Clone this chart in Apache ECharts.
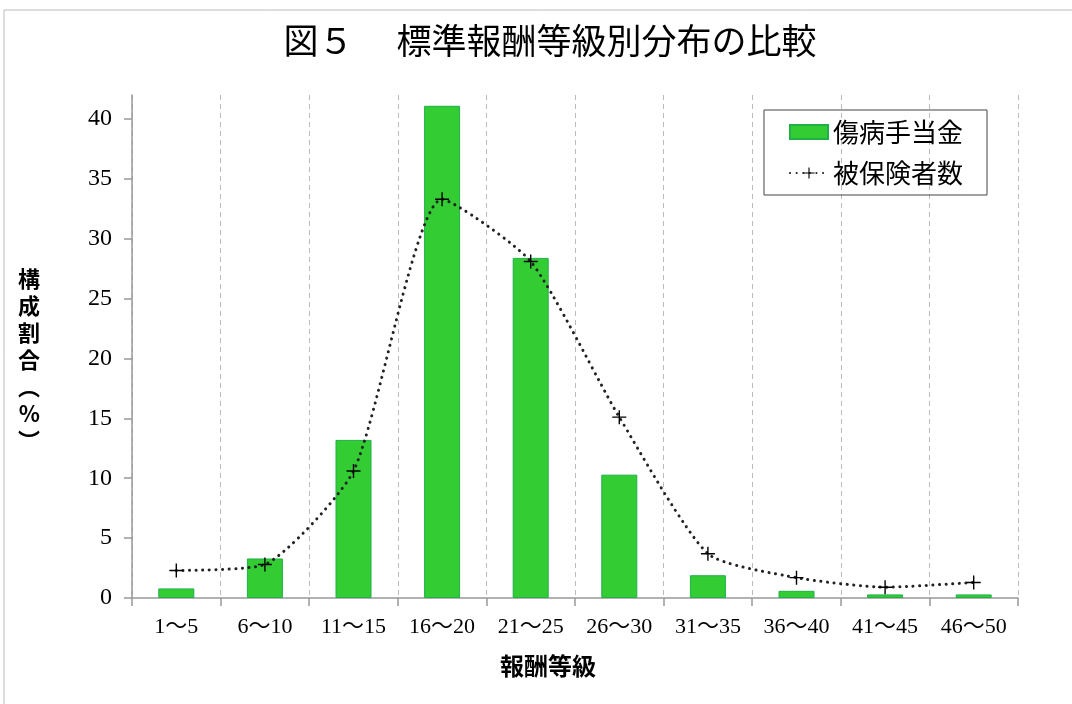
<!DOCTYPE html>
<html><head><meta charset="utf-8">
<script src="https://cdn.jsdelivr.net/npm/echarts@6/dist/echarts.min.js"></script>
<style>html,body{margin:0;padding:0;background:#fff}#c{width:1072px;height:704px}</style>
</head><body><div id="c"></div>
<script>
const categories = ['1〜5','6〜10','11〜15','16〜20','21〜25','26〜30','31〜35','36〜40','41〜45','46〜50'];
const sickBenefit = [0.8, 3.3, 13.2, 41.1, 28.4, 10.3, 1.9, 0.6, 0.3, 0.3];
const insured = [2.3, 2.8, 10.6, 33.3, 28.1, 15.1, 3.7, 1.7, 0.9, 1.3];
const yTicks = [0,5,10,15,20,25,30,35,40];

const serif = "'Liberation Serif','Noto Sans CJK JP',serif";
const sans = "'Noto Sans CJK JP',sans-serif";
const chart = echarts.init(document.getElementById('c'));
chart.setOption({
  backgroundColor:'#fff',
  animation:false,
  graphic:[{type:'rect',shape:{x:4,y:10,width:1100,height:720},style:{fill:'none',stroke:'#bbb',lineWidth:1},silent:true}],
  title:{text:'図５　 標準報酬等級別分布の比較',left:545,textAlign:'center',top:18,textStyle:{fontFamily:sans,fontSize:35,fontWeight:'normal',color:'#000'}},
  legend:{
    orient:'vertical',right:85,top:110,
    borderColor:'#444',borderWidth:1,padding:[9,24,9,25],itemGap:15,
    itemWidth:38,itemHeight:14,
    textStyle:{fontFamily:sans,fontSize:26,color:'#000'},
    data:[{name:'傷病手当金',icon:'rect'},{name:'被保険者数'}]
  },
  grid:{left:132,right:54,top:95,bottom:106},
  xAxis:{
    type:'category',data:categories,boundaryGap:true,
    name:'報酬等級',nameLocation:'middle',nameGap:56,
    nameTextStyle:{fontFamily:sans,fontSize:24,fontWeight:'bold',color:'#000',padding:[0,54,0,0]},
    axisLine:{lineStyle:{color:'#999',width:1.5}},
    axisTick:{show:true,length:8,lineStyle:{color:'#999',width:1.5}},
    axisLabel:{fontFamily:serif,fontSize:22,color:'#000',margin:18,interval:0},
    splitLine:{show:true,lineStyle:{color:'#bbb',type:[5,4],width:1}}
  },
  yAxis:{
    type:'value',min:0,max:42,interval:5,
    name:'\n構\n成\n割\n合\n︵\n%\n︶',nameLocation:'middle',nameGap:92,nameRotate:0,
    nameTextStyle:{fontFamily:sans,fontSize:22,fontWeight:'bold',color:'#000',lineHeight:27},
    axisLine:{show:true,lineStyle:{color:'#999',width:1.5}},
    axisTick:{show:true,length:8,lineStyle:{color:'#999',width:1.5}},
    axisLabel:{fontFamily:serif,fontSize:24,color:'#000',margin:20,showMaxLabel:false,
      formatter:function(v){return yTicks.indexOf(v)>=0?String(v):'';}},
    splitLine:{show:false}
  },
  series:[
    {name:'傷病手当金',type:'bar',data:sickBenefit,barWidth:36,
     itemStyle:{color:'#33cc33',borderColor:'#1fb04a',borderWidth:1}},
    {name:'被保険者数',type:'line',data:insured,smooth:0.2,
     symbol:'path://M-0.7,-7H0.7V7H-0.7ZM-7,-0.7H7V0.7H-7Z',symbolSize:14,
     itemStyle:{color:'#000'},
     lineStyle:{color:'#222',width:3,type:[0.1,6.5],cap:'round'}}
  ]
});
</script></body></html>
